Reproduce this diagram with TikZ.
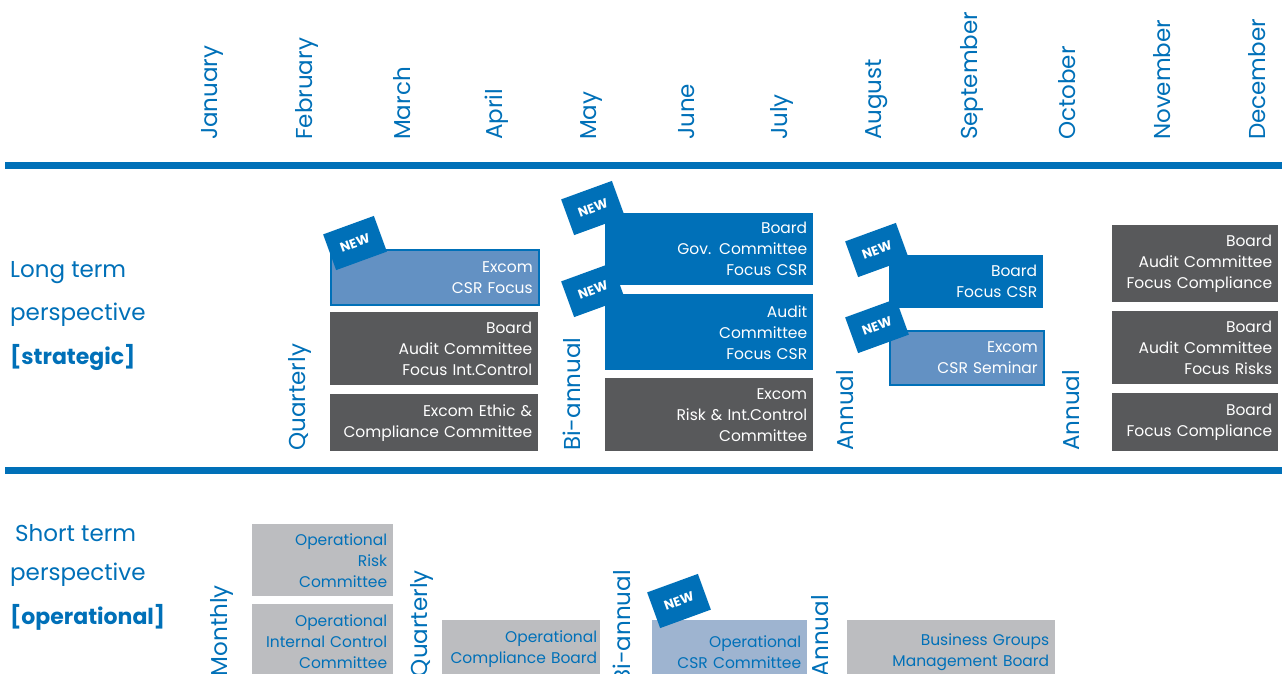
\documentclass[tikz,border=0pt]{standalone}
\usepackage{fontspec}
\setmainfont{Poppins}
\usetikzlibrary{positioning}
\definecolor{calblue}{RGB}{0,112,184}
\definecolor{calgray}{RGB}{88,89,91}
\definecolor{callight}{RGB}{188,189,192}
\definecolor{calsoft}{RGB}{99,145,195}
\definecolor{calpale}{RGB}{158,180,208}
\begin{document}
\begin{tikzpicture}[x=1pt,y=-1pt,
  month/.style={rotate=90,anchor=west,inner sep=0pt,text=calblue,font=\fontsize{23}{23}\selectfont},
  freq/.style={rotate=90,anchor=west,inner sep=0pt,text=calblue,font=\fontsize{23}{23}\selectfont},
  persp/.style={anchor=west,inner sep=0pt,text=calblue,font=\fontsize{23}{23}\selectfont},
  cal/.style 2 args={anchor=north west,inner xsep=6pt,inner ysep=0pt,
    text width=#1,minimum height=#2,align=right,font=\fontsize{15.5}{21}\selectfont},
  dark/.style 2 args={cal={#1}{#2},fill=calgray,text=white},
  solid/.style 2 args={cal={#1}{#2},fill=calblue,text=white},
  soft/.style 2 args={cal={#1}{#2},fill=calsoft,draw=calblue,line width=1.5pt,text=white},
  light/.style 2 args={cal={#1}{#2},fill=callight,text=calblue},
  pale/.style 2 args={cal={#1}{#2},fill=calpale,text=calblue},
  newtag/.style={fill=calblue,text=white,rotate=20,minimum width=54pt,minimum height=38pt,
    inner sep=0pt,font=\bfseries\fontsize{13}{13}\selectfont}]
\useasboundingbox (0,0) rectangle (1282,673);
% months
\foreach \m [count=\i] in {January,February,March,April,May,June,July,August,
  September,October,November,December}
  \node[month] (m\i) at ({117+95*\i},140) {\m};
% rules
\coordinate (ta) at (5,165.5); \coordinate (tb) at (1282,165.5);
\coordinate (ba) at (5,470.5); \coordinate (bb) at (1282,470.5);
\draw[calblue,line width=7pt] (ta) -- (tb);
\draw[calblue,line width=7pt] (ba) -- (bb);
% long term
\node[persp] (lt1) at (10,273) {Long term};
\node[persp] (lt2) at (10,315) {perspective};
\node[persp,font=\bfseries\fontsize{22}{22}\selectfont] (lt3) at (10,357) {[strategic]};
\node[freq] (q1) at (300,451) {Quarterly};
\node[soft={196pt}{55pt}] (e1) at (330,249) {Excom\\CSR Focus};
\node[dark={196pt}{73pt}] (e2) at (330,312) {Board\\Audit Committee\\Focus Int.Control};
\node[dark={196pt}{57pt}] (e3) at (330,394) {Excom Ethic \&\\Compliance Committee};
\node[newtag] (n1) at (355,243) {NEW};
\node[freq] (q2) at (572,451) {Bi-annual};
\node[solid={196pt}{72pt}] (g1) at (605,213) {Board\\Gov. Committee\\Focus CSR};
\node[solid={196pt}{76pt}] (g2) at (605,294) {Audit\\Committee\\Focus CSR};
\node[dark={196pt}{73pt}] (g3) at (605,378) {Excom\\Risk \& Int.Control\\Committee};
\node[newtag] (n2) at (593,208) {NEW};
\node[newtag] (n3) at (593,290) {NEW};
\node[freq] (q3) at (845,451) {Annual};
\node[solid={142pt}{53pt}] (a1) at (889,255) {Board\\Focus CSR};
\node[soft={142pt}{54pt}] (a2) at (889,330) {Excom\\CSR Seminar};
\node[newtag] (n4) at (877,250) {NEW};
\node[newtag] (n5) at (877,326) {NEW};
\node[freq] (q4) at (1071,451) {Annual};
\node[dark={154pt}{77pt}] (r1) at (1112,225) {Board\\Audit Committee\\Focus Compliance};
\node[dark={154pt}{73pt}] (r2) at (1112,311) {Board\\Audit Committee\\Focus Risks};
\node[dark={154pt}{58pt}] (r3) at (1112,393) {Board\\Focus Compliance};
% short term
\node[persp] (st1) at (15,533) {Short term};
\node[persp] (st2) at (10,575) {perspective};
\node[persp,font=\bfseries\fontsize{22}{22}\selectfont] (st3) at (10,617) {[operational]};
\node[freq,anchor=east] (o1) at (222,585) {Monthly};
\node[light={129pt}{72pt}] (p1) at (252,524) {Operational\\Risk\\Committee};
\node[light={129pt}{74pt}] (p2) at (252,604) {Operational\\Internal Control\\Committee};
\node[freq,anchor=east] (o2) at (422,570) {Quarterly};
\node[light={152pt}{58pt},inner xsep=3pt] (p3) at (442,620) {Operational\\Compliance Board};
\node[freq,anchor=east] (o3) at (622,570) {Bi-annual};
\node[pale={143pt}{63pt}] (p4) at (652,620) {Operational\\CSR Committee};
\node[newtag] (n6) at (679,601) {NEW};
\node[freq,anchor=east] (o4) at (820,595) {Annual};
\node[light={196pt}{63pt}] (p5) at (847,620) {Business Groups\\Management Board};
\end{tikzpicture}
\end{document}
